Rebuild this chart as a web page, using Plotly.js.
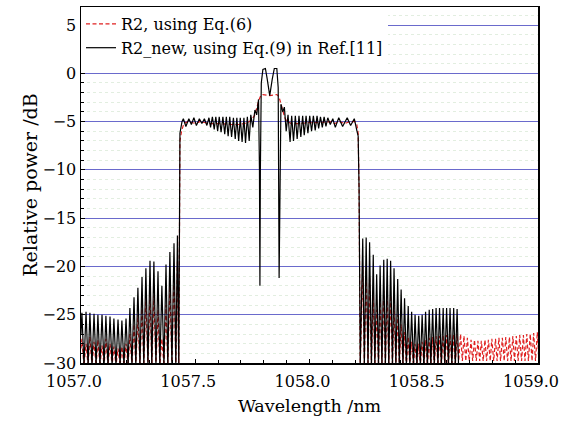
<!DOCTYPE html>
<html>
<head>
<meta charset="utf-8">
<script src="https://cdn.plot.ly/plotly-3.0.1.min.js"></script>
<style>html,body{margin:0;padding:0;background:#fff;}#chart{width:578px;height:421px;}</style>
</head>
<body>
<div id="chart"></div>
<script>
// ---------- data (wavelength in nm, power in dB) ----------
// R2_new (black) : left side lobes
const blackLeftX = [1057.000,1057.004,1057.013,1057.022,1057.031,1057.039,1057.048,1057.057,1057.066,1057.074,1057.083,1057.092,1057.101,1057.109,1057.118,1057.127,1057.136,1057.144,1057.153,1057.162,1057.171,1057.179,1057.188,1057.197,1057.206,1057.214,1057.223,1057.232,1057.240,1057.249,1057.258,1057.267,1057.275,1057.284,1057.293,1057.302,1057.310,1057.319,1057.328,1057.337,1057.345,1057.354,1057.363,1057.372,1057.380,1057.389,1057.398,1057.407,1057.415,1057.422,1057.428];
const blackLeftY = [-27.0,-24.8,-30.3,-24.7,-30.3,-24.8,-30.3,-24.9,-30.3,-25.0,-30.3,-25.0,-30.3,-25.1,-30.3,-25.2,-30.3,-25.4,-30.3,-25.5,-30.3,-25.6,-30.3,-25.4,-30.3,-24.3,-30.3,-23.2,-30.3,-22.2,-30.3,-21.1,-30.3,-20.2,-30.3,-19.4,-30.3,-19.5,-30.3,-20.5,-30.3,-22.0,-30.3,-19.8,-30.3,-18.5,-30.3,-17.6,-30.3,-16.8,-30.3];
// R2_new (black) : pass band
const blackTopX = [1057.433,1057.442,1057.448,1057.459,1057.472,1057.483,1057.494,1057.505,1057.518,1057.529,1057.540,1057.551,1057.560,1057.567,1057.575,1057.583,1057.590,1057.598,1057.605,1057.613,1057.621,1057.629,1057.636,1057.644,1057.651,1057.659,1057.667,1057.675,1057.682,1057.690,1057.697,1057.705,1057.713,1057.720,1057.728,1057.736,1057.743,1057.752,1057.761,1057.769,1057.777,1057.781,1057.783,1057.785,1057.789,1057.796,1057.807,1057.815,1057.826,1057.837,1057.846,1057.857,1057.863,1057.867,1057.871,1057.875,1057.883,1057.890,1057.898,1057.906,1057.915,1057.922,1057.930,1057.938,1057.946,1057.954,1057.962,1057.970,1057.977,1057.985,1057.993,1058.001,1058.009,1058.017,1058.025,1058.033,1058.040,1058.048,1058.056,1058.064,1058.072,1058.080,1058.091,1058.102,1058.113,1058.128,1058.145,1058.165,1058.180,1058.196,1058.207,1058.213,1058.217,1058.222];
const blackTopY = [-6.2,-5.0,-4.7,-5.5,-4.7,-5.3,-4.6,-5.4,-4.7,-5.2,-4.7,-5.4,-4.6,-5.6,-4.5,-5.8,-4.5,-6.0,-4.5,-6.1,-4.5,-6.3,-4.5,-6.5,-4.5,-6.6,-4.6,-6.8,-4.6,-7.0,-4.6,-7.1,-4.6,-7.2,-4.5,-7.0,-4.3,-5.6,-3.8,-4.3,-2.7,-10.0,-22.0,-10.0,-1.0,0.4,0.5,-0.6,-2.3,-0.6,0.5,0.5,-1.5,-21.2,-8.0,-3.2,-4.0,-3.5,-6.0,-4.3,-7.1,-4.4,-7.0,-4.4,-6.8,-4.4,-6.6,-4.4,-6.4,-4.4,-6.2,-4.4,-6.0,-4.4,-5.9,-4.4,-5.7,-4.5,-5.6,-4.5,-5.5,-4.6,-5.3,-4.7,-5.6,-4.6,-5.5,-4.6,-5.4,-4.7,-5.9,-6.5,-12.0,-30.3];
// R2_new (black) : right side lobes
const blackRightX = [1058.233,1058.240,1058.248,1058.256,1058.263,1058.271,1058.279,1058.286,1058.294,1058.302,1058.309,1058.317,1058.325,1058.332,1058.340,1058.347,1058.355,1058.363,1058.370,1058.378,1058.386,1058.393,1058.401,1058.409,1058.416,1058.424,1058.432,1058.439,1058.447,1058.455,1058.462,1058.470,1058.478,1058.485,1058.493,1058.501,1058.508,1058.516,1058.524,1058.531,1058.539,1058.546,1058.554,1058.562,1058.569,1058.577,1058.585,1058.592,1058.600,1058.608,1058.615,1058.623,1058.631,1058.638,1058.646,1058.653];
const blackRightY = [-17.1,-30.3,-17.0,-30.3,-17.5,-30.3,-18.8,-30.3,-20.8,-30.3,-19.9,-30.3,-19.3,-30.3,-19.2,-30.3,-19.4,-30.3,-20.2,-30.3,-21.3,-30.3,-22.4,-30.3,-23.3,-30.3,-24.1,-30.3,-24.7,-30.3,-25.0,-30.3,-25.1,-30.3,-25.0,-30.3,-24.7,-30.3,-24.5,-30.3,-24.4,-30.3,-24.3,-30.3,-24.3,-30.3,-24.3,-30.3,-24.3,-30.3,-24.3,-30.3,-24.3,-30.3,-24.4,-31.0];

// R2 (red dashed) : left side lobes (same sample positions as black)
const redLeftY = [-28.5,-27.5,-30.3,-28.0,-30.3,-27.3,-30.3,-27.8,-30.3,-27.6,-30.3,-28.2,-30.3,-27.5,-30.3,-28.0,-30.3,-28.3,-30.3,-28.5,-30.3,-28.3,-30.3,-28.0,-30.3,-27.0,-30.3,-26.0,-30.3,-25.0,-30.3,-24.0,-30.3,-23.0,-30.3,-22.5,-30.3,-23.0,-30.3,-24.5,-30.3,-27.5,-30.3,-24.0,-30.3,-22.0,-30.3,-20.5,-30.3,-19.5,-30.3];
// R2 (red dashed) : pass band
const redTopX = [1057.433,1057.440,1057.450,1057.468,1057.485,1057.503,1057.520,1057.542,1057.564,1057.608,1057.651,1057.695,1057.730,1057.748,1057.761,1057.769,1057.778,1057.787,1057.796,1057.826,1057.857,1057.866,1057.874,1057.883,1057.892,1057.901,1057.922,1057.957,1058.001,1058.045,1058.089,1058.110,1058.132,1058.154,1058.176,1058.198,1058.207,1058.213,1058.217,1058.222];
const redTopY = [-7.0,-6.0,-5.2,-5.0,-5.1,-5.2,-5.0,-5.1,-5.2,-5.2,-5.3,-5.3,-5.1,-4.8,-4.3,-3.6,-2.8,-2.3,-2.2,-2.3,-2.2,-2.4,-3.0,-3.8,-4.6,-5.0,-5.2,-5.2,-5.1,-5.1,-5.0,-5.2,-5.0,-5.2,-5.0,-5.0,-5.3,-6.2,-12.0,-30.3];
// R2 (red dashed) : right side lobes and tail
const redRightX = [1058.233,1058.240,1058.248,1058.256,1058.263,1058.271,1058.279,1058.286,1058.294,1058.302,1058.309,1058.317,1058.325,1058.332,1058.340,1058.347,1058.355,1058.363,1058.370,1058.378,1058.386,1058.393,1058.401,1058.409,1058.416,1058.424,1058.432,1058.439,1058.447,1058.455,1058.462,1058.470,1058.478,1058.485,1058.493,1058.501,1058.508,1058.516,1058.524,1058.531,1058.539,1058.546,1058.554,1058.562,1058.569,1058.577,1058.585,1058.592,1058.600,1058.608,1058.615,1058.623,1058.631,1058.638,1058.646,1058.653,1058.661,1058.669,1058.676,1058.684,1058.691,1058.699,1058.707,1058.714,1058.722,1058.730,1058.737,1058.745,1058.752,1058.760,1058.768,1058.775,1058.783,1058.791,1058.798,1058.806,1058.814,1058.821,1058.829,1058.836,1058.844,1058.852,1058.859,1058.867,1058.875,1058.882,1058.890,1058.897,1058.905,1058.913,1058.920,1058.928,1058.936,1058.943,1058.951,1058.958,1058.966,1058.974,1058.981,1058.989,1058.997,1059.004];
const redRightY = [-20.0,-30.3,-20.5,-30.3,-21.0,-30.3,-22.5,-30.3,-24.5,-30.3,-23.0,-30.3,-22.5,-30.3,-22.5,-30.3,-23.0,-30.3,-24.0,-30.3,-25.0,-30.3,-26.0,-30.3,-26.8,-30.3,-27.3,-30.3,-27.8,-30.3,-28.0,-30.3,-28.0,-30.3,-27.8,-30.3,-27.6,-30.3,-27.4,-30.3,-27.3,-30.3,-27.2,-30.3,-27.2,-30.3,-27.1,-30.3,-27.1,-30.3,-27.0,-30.3,-27.0,-30.3,-27.0,-29.8,-27.0,-29.8,-27.2,-29.8,-27.4,-29.8,-27.6,-29.8,-27.6,-29.8,-27.7,-29.8,-27.7,-29.8,-27.6,-29.8,-27.6,-29.8,-27.5,-29.8,-27.5,-29.8,-27.4,-29.8,-27.4,-29.8,-27.3,-29.8,-27.3,-29.8,-27.2,-29.8,-27.2,-29.8,-27.1,-29.8,-27.1,-29.8,-27.0,-29.8,-27.0,-29.8,-26.9,-29.8,-26.8,-29.8];

const seriesNames = ['R2, using Eq.(6)', 'R2_new, using Eq.(9) in Ref.[11]'];
const xTickVals = [1057.0, 1057.5, 1058.0, 1058.5, 1059.0];
const xTickText = ['1057.0', '1057.5', '1058.0', '1058.5', '1059.0'];

// ---------- assemble ----------
const blackX = blackLeftX.concat(blackTopX, blackRightX);
const blackY = blackLeftY.concat(blackTopY, blackRightY);
const redX = blackLeftX.concat(redTopX, redRightX);
const redY = redLeftY.concat(redTopY, redRightY);

const FONT = 'DejaVu Serif, serif';

const traces = [
  {x: redX, y: redY, type: 'scatter', mode: 'lines', name: seriesNames[0],
   line: {color: '#e02020', width: 1.2, dash: '4px,2.5px'}},
  {x: blackX, y: blackY, type: 'scatter', mode: 'lines', name: seriesNames[1],
   line: {color: '#000000', width: 1.2}}
];

const layout = {
  width: 578, height: 421,
  margin: {l: 81, r: 40, t: 7, b: 58, pad: 0},
  paper_bgcolor: '#ffffff', plot_bgcolor: '#ffffff',
  font: {family: FONT, size: 16, color: '#000'},
  showlegend: true,
  legend: {x: 0, y: 1, xanchor: 'left', yanchor: 'top', bgcolor: '#ffffff',
           borderwidth: 0, traceorder: 'normal', font: {family: FONT, size: 16, color: '#000'},
           tracegroupgap: 0},
  xaxis: {
    range: [1057, 1059], tickvals: xTickVals, ticktext: xTickText,
    ticks: 'inside', ticklen: 4, tickcolor: '#000', tickwidth: 1,
    showgrid: false, zeroline: false,
    showline: true, mirror: true, linecolor: '#000', linewidth: 1.5,
    ticklabelshift: -7, ticklabelstandoff: 3,
    minor: {dtick: 0.1, tick0: 1057, ticks: 'inside', ticklen: 3, tickcolor: '#000', showgrid: false},
    tickfont: {family: FONT, size: 16},
    title: {text: 'Wavelength /nm', font: {family: FONT, size: 17.5}, standoff: 10}
  },
  yaxis: {
    range: [-30, 6.87], dtick: 5, tick0: 0,
    ticks: 'inside', ticklen: 4, tickcolor: '#000', tickwidth: 1,
    showgrid: true, gridcolor: '#6a6acc', gridwidth: 1, zeroline: false,
    showline: true, mirror: true, linecolor: '#000', linewidth: 1.5,
    minor: {dtick: 1, tick0: 0, ticks: 'inside', ticklen: 3, tickcolor: '#000',
            showgrid: true, gridcolor: '#e2eee0', griddash: 'dot', gridwidth: 1},
    tickfont: {family: FONT, size: 16},
    title: {text: 'Relative power /dB', font: {family: FONT, size: 19}, standoff: 0}
  }
};

Plotly.newPlot('chart', traces, layout, {displayModeBar: false, staticPlot: true});
</script>
</body>
</html>
